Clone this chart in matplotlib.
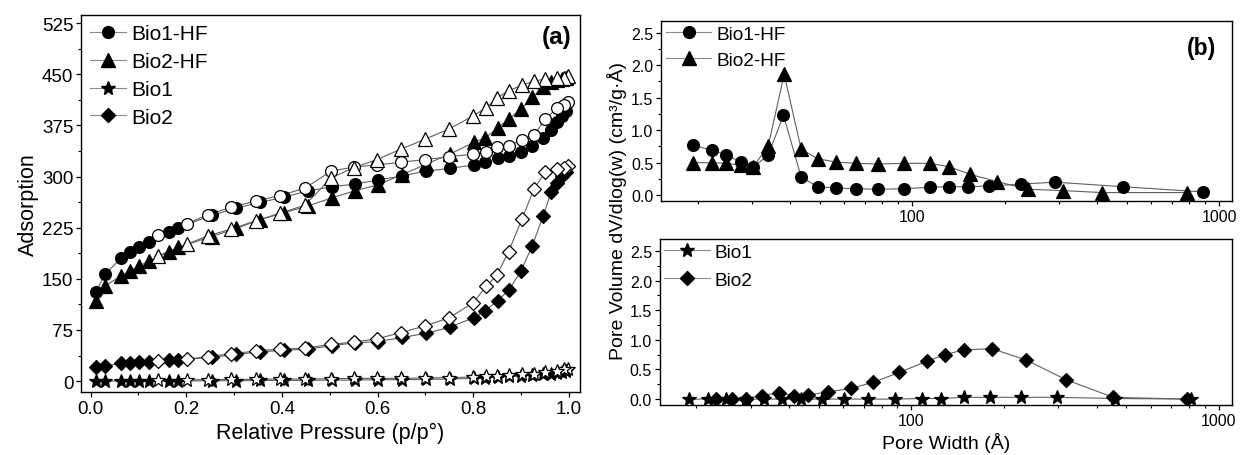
import matplotlib

matplotlib.use("Agg")

import matplotlib.pyplot as plt
from matplotlib.lines import Line2D
from matplotlib.ticker import (MultipleLocator, LogLocator, NullFormatter,
                               FixedLocator, FixedFormatter, FormatStrFormatter)

plt.rcParams["font.family"] = ["Liberation Sans", "DejaVu Sans"]

# ---- (a) isotherms: shared relative pressures ----
P_ADS = [0.011, 0.031, 0.063, 0.082, 0.102, 0.122, 0.163, 0.183, 0.253, 0.305,
         0.355, 0.405, 0.455, 0.505, 0.552, 0.601, 0.652, 0.701, 0.751, 0.801,
         0.825, 0.851, 0.875, 0.900, 0.923, 0.946, 0.963, 0.975, 0.985, 0.993]
P_DES = [0.997, 0.990, 0.975, 0.950, 0.927, 0.902, 0.874, 0.849, 0.827, 0.800,
         0.750, 0.700, 0.648, 0.599, 0.550, 0.503, 0.448, 0.395, 0.345, 0.294,
         0.245, 0.202, 0.142]

bio1hf_ads = [131, 157, 180, 190, 196, 204, 218, 225, 243, 254,
              262, 270, 279, 285, 289, 295, 301, 308, 312, 317,
              321, 327, 330, 336, 345, 357, 369, 380, 389, 396]
bio1hf_des = [409, 405, 400, 384, 361, 354, 345, 343, 336, 333,
              329, 325, 321, 317, 314, 308, 283, 272, 264, 255,
              244, 231, 214]

bio2hf_ads = [118, 140, 154, 162, 169, 176, 189, 196, 212, 224,
              237, 247, 257, 269, 279, 288, 303, 318, 333, 350,
              357, 371, 385, 399, 416, 431, 438, 441, 443, 445]
bio2hf_des = [447, 445, 444, 443, 440, 434, 426, 415, 401, 389,
              370, 355, 340, 325, 313, 298, 258, 246, 235, 223,
              213, 201, 184]

bio1_ads = [0, 0, 0, 0, 0, 0, 0, 0, 0.5, 0.5,
            1, 1, 1, 1.5, 1.5, 2, 2, 2.5, 3, 4,
            5, 6, 7, 8, 9, 10, 11, 12, 13, 15]
bio1_des = [18, 17, 15, 13, 11, 10, 9, 8, 7, 6,
            5, 4.5, 4, 4, 4, 3.5, 3, 3, 2.5, 2.5,
            2, 2, 1.5]

bio2_ads = [20, 22, 26, 27, 28, 28, 31, 31, 35, 39,
            43, 45, 47, 52, 56, 58, 64, 70, 79, 93,
            103, 118, 134, 162, 198, 242, 278, 291, 301, 306]
bio2_des = [316, 313, 311, 306, 282, 238, 190, 155, 139, 115,
            93, 81, 71, 62, 57, 54, 48, 47, 44, 40,
            36, 32, 30]

# ---- (b) pore size distributions ----
w_bio1hf = [19.3, 22.3, 24.8, 27.7, 30.4, 34.0, 38.1, 43.5, 49.2, 56.4, 65.5, 77.6,
            94.2, 114.4, 132.3, 151.8, 177.3, 226.5, 292.3, 485.3, 882.6]
v_bio1hf = [0.77, 0.69, 0.62, 0.51, 0.43, 0.62, 1.23, 0.28, 0.13, 0.11, 0.10, 0.09,
            0.10, 0.12, 0.13, 0.13, 0.14, 0.17, 0.20, 0.13, 0.05]

w_bio2hf = [19.3, 22.3, 24.8, 27.7, 30.4, 34.0, 38.3, 43.5, 49.2, 56.4, 65.5, 77.6,
            94.2, 113.9, 131.4, 154.6, 188.7, 238.0, 311.0, 414.0, 786.0]
v_bio2hf = [0.50, 0.50, 0.49, 0.46, 0.44, 0.76, 1.86, 0.71, 0.56, 0.51, 0.49, 0.48,
            0.49, 0.49, 0.44, 0.32, 0.21, 0.09, 0.07, 0.04, 0.04]

w_bio1 = [19.0, 21.9, 24.9, 28.9, 33.2, 37.9, 43.7, 51.2, 60.2, 72.1, 88.7,
          108.3, 124.9, 147.9, 180.6, 226.5, 296.7, 458.0, 809.0]
v_bio1 = [0.0, 0.0, 0.0, 0.0, 0.0, 0.0, 0.0, 0.0, 0.0, 0.0, 0.0,
          0.01, 0.01, 0.03, 0.03, 0.03, 0.03, 0.01, 0.0]

w_bio2 = [23.2, 26.2, 29.1, 32.8, 37.2, 41.6, 46.3, 53.4, 63.6, 74.8, 91.4,
          112.5, 128.8, 147.9, 182.6, 236.4, 317.4, 453.0, 786.0]
v_bio2 = [0.0, 0.0, 0.01, 0.06, 0.11, 0.05, 0.07, 0.12, 0.18, 0.28, 0.45,
          0.64, 0.75, 0.83, 0.85, 0.66, 0.33, 0.03, 0.0]

LINE_C = "#606060"
LINE_W = 0.8

# marker shape and size per sample
MK = {
    "Bio1-HF": ("o", 8.5),
    "Bio2-HF": ("^", 9.5),
    "Bio1": ("*", 10),
    "Bio2": ("D", 7.2),
}


def style_axes(ax, tick_size):
    for spine in ax.spines.values():
        spine.set_linewidth(1.0)
    ax.tick_params(which="both", direction="out", top=False, right=False,
                   labelsize=tick_size, pad=2)
    ax.tick_params(which="major", length=3.5, width=0.9)
    ax.tick_params(which="minor", length=2.2, width=0.8)


def draw_series(ax, x, y, name, filled):
    marker, ms = MK[name]
    ax.plot(x, y, color=LINE_C, lw=LINE_W, zorder=1)
    ax.plot(x, y, ls="none", marker=marker, ms=ms, mec="black", mew=0.9,
            mfc="black" if filled else "white", zorder=2 if filled else 3)


def legend_handle(name):
    marker, ms = MK[name]
    return Line2D([0], [0], color="#8a8a8a", lw=LINE_W, marker=marker, ms=ms,
                  mfc="black", mec="black", label=name)


fig = plt.figure(figsize=(12.4, 4.56), dpi=100)

# ---------------- panel (a) ----------------
ax = fig.add_axes([0.0653, 0.1382, 0.4024, 0.8267])
isotherms = [
    ("Bio1-HF", bio1hf_ads, bio1hf_des),
    ("Bio2-HF", bio2hf_ads, bio2hf_des),
    ("Bio1", bio1_ads, bio1_des),
    ("Bio2", bio2_ads, bio2_des),
]
for name, ads, des in isotherms:
    draw_series(ax, P_ADS, ads, name, True)
for name, ads, des in isotherms:
    draw_series(ax, P_DES, des, name, False)

ax.set_xlim(-0.02, 1.023)
ax.set_ylim(-16, 537)
ax.xaxis.set_major_locator(MultipleLocator(0.2))
ax.xaxis.set_minor_locator(MultipleLocator(0.1))
ax.yaxis.set_major_locator(MultipleLocator(75))
ax.yaxis.set_minor_locator(MultipleLocator(37.5))
ax.xaxis.set_major_formatter(FormatStrFormatter("%.1f"))
style_axes(ax, 13.5)
ax.set_xlabel("Relative Pressure (p/p°)", fontsize=15.5, labelpad=4)
ax.set_ylabel("Adsorption", fontsize=15.5, labelpad=2)
ax.text(0.983, 0.943, "(a)", transform=ax.transAxes, ha="right", va="center",
        fontsize=17.5, fontweight="bold")
ax.legend(handles=[legend_handle(n) for n, _, _ in isotherms],
          loc="upper left", frameon=False, fontsize=15, handlelength=1.7,
          handletextpad=0.25, labelspacing=0.42, borderaxespad=0.15,
          borderpad=0.3)


def style_log(ax):
    ax.set_xscale("log")
    ax.set_xlim(15.2, 1100)
    ax.xaxis.set_major_locator(FixedLocator([100, 1000]))
    ax.xaxis.set_major_formatter(FixedFormatter(["100", "1000"]))
    ax.xaxis.set_minor_locator(LogLocator(base=10, subs=range(2, 10), numticks=10))
    ax.xaxis.set_minor_formatter(NullFormatter())
    ax.yaxis.set_major_locator(MultipleLocator(0.5))
    ax.yaxis.set_minor_locator(MultipleLocator(0.25))
    ax.yaxis.set_major_formatter(FormatStrFormatter("%.1f"))
    style_axes(ax, 11.5)


# ---------------- panel (b) top ----------------
axt = fig.add_axes([0.533, 0.557, 0.4605, 0.3947])
draw_series(axt, w_bio1hf, v_bio1hf, "Bio1-HF", True)
draw_series(axt, w_bio2hf, v_bio2hf, "Bio2-HF", True)
axt.set_ylim(-0.09, 2.68)
style_log(axt)
axt.text(0.972, 0.855, "(b)", transform=axt.transAxes, ha="right", va="center",
         fontsize=16.5, fontweight="bold")
axt.legend(handles=[legend_handle("Bio1-HF"), legend_handle("Bio2-HF")],
           loc="upper left", frameon=False, fontsize=13.7, handlelength=2.4,
           handletextpad=0.25, labelspacing=0.45, borderaxespad=0.0,
           borderpad=0.25)

# ---------------- panel (b) bottom ----------------
axb = fig.add_axes([0.532, 0.1096, 0.4613, 0.364])
draw_series(axb, w_bio1, v_bio1, "Bio1", True)
draw_series(axb, w_bio2, v_bio2, "Bio2", True)
axb.set_ylim(-0.1, 2.70)
style_log(axb)
axb.set_xlabel("Pore Width (Å)", fontsize=14, labelpad=3)
axb.legend(handles=[legend_handle("Bio1"), legend_handle("Bio2")],
           loc="upper left", frameon=False, fontsize=13.7, handlelength=2.4,
           handletextpad=0.25, labelspacing=0.55, borderaxespad=0.0,
           borderpad=0.25)

fig.text(0.4976, 0.537, "Pore Volume dV/dlog(w) (cm³/g·Å)", rotation=90,
         ha="center", va="center", fontsize=14)

fig.savefig("out.png", dpi=100)
